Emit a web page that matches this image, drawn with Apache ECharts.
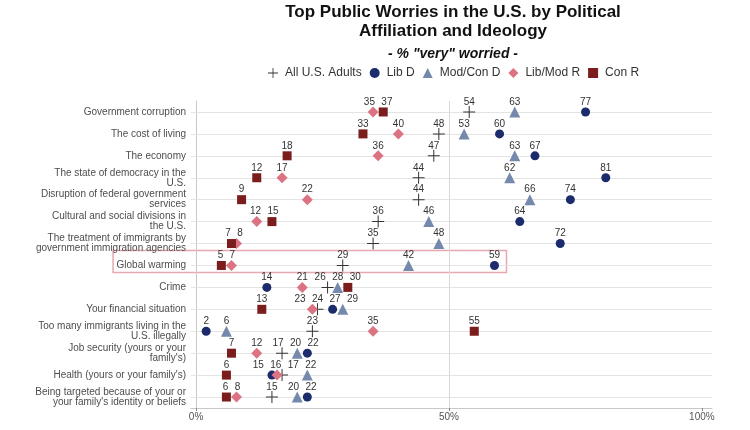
<!DOCTYPE html>
<html><head><meta charset="utf-8">
<script src="https://cdn.jsdelivr.net/npm/echarts@6/dist/echarts.min.js"></script>
<style>html,body{margin:0;padding:0;background:#fff}#c{width:750px;height:430px}</style>
</head><body><div id="c"></div>
<script>
// ---- data ----
const categories = [
  "Government corruption",
  "The cost of living",
  "The economy",
  "The state of democracy in the\nU.S.",
  "Disruption of federal government\nservices",
  "Cultural and social divisions in\nthe U.S.",
  "The treatment of immigrants by\ngovernment immigration agencies",
  "Global warming",
  "Crime",
  "Your financial situation",
  "Too many immigrants living in the\nU.S. illegally",
  "Job security (yours or your\nfamily's)",
  "Health (yours or your family's)",
  "Being targeted because of your or\nyour family's identity or beliefs"
];
const allAdults = [54, 48, 47, 44, 44, 36, 35, 29, 26, 24, 23, 17, 17, 15];
const libD      = [77, 60, 67, 81, 74, 64, 72, 59, 14, 27,  2, 22, 15, 22];
const modConD   = [63, 53, 63, 62, 66, 46, 48, 42, 28, 29,  6, 20, 22, 20];
const libModR   = [35, 40, 36, 17, 22, 12,  8,  7, 21, 23, 35, 12, 16,  8];
const conR      = [37, 33, 18, 12,  9, 15,  7,  5, 30, 13, 55,  7,  6,  6];
const seriesNames = ["All U.S. Adults", "Lib D", "Mod/Con D", "Lib/Mod R", "Con R"];
const xTickValues = [0, 50, 100];
const highlightIndex = 7; // Global warming
const titleText = "Top Public Worries in the U.S. by Political\nAffiliation and Ideology";
const subtitleText = '- % "very" worried -';

// ---- styles ----
const FONT = "Liberation Sans, Arial, sans-serif";
const seriesVals = [allAdults, libD, modConD, libModR, conR];
const colors = ["#333333", "#1b2b6b", "#7489ab", "#dc7383", "#7b1d1d"];
const crossPath = "path://M5.5,0h1v5.5h5.5v1h-5.5v5.5h-1v-5.5h-5.5v-1h5.5z";
const symbols = [crossPath, "circle", "triangle", "diamond", "rect"];
const sizes = [12, 9, 11, 11, 9];
const LABEL_DY = -10;

function buildSeries(offsets) {
  const s = seriesVals.map((arr, si) => ({
    name: seriesNames[si],
    type: "scatter",
    z: 3 + si,
    symbol: symbols[si],
    symbolSize: sizes[si],
    symbolKeepAspect: true,
    itemStyle: { color: colors[si], opacity: 1 },
    label: {
      show: true, position: "inside", offset: [0, LABEL_DY],
      fontFamily: FONT, fontSize: 10, color: "#333",
      formatter: p => p.value[0]
    },
    emphasis: { disabled: true },
    data: arr.map((v, i) => {
      const d = { value: [v, i] };
      if (offsets) d.label = { offset: [offsets[si][i], LABEL_DY] };
      return d;
    })
  }));
  s.push({
    name: "grid-lines", type: "scatter", z: 1, data: [], silent: true,
    markLine: {
      z: 1, silent: true, symbol: "none", animation: false,
      label: { show: false },
      emphasis: { disabled: true },
      lineStyle: { color: "#e4e4e4", width: 1, type: "solid" },
      data: categories.map((c, i) => ({ yAxis: i })).concat([{ xAxis: 50, lineStyle: { color: "#d9d9d9" } }])
    }
  });
  return s;
}

const option = {
  animation: false,
  backgroundColor: "#fff",
  textStyle: { fontFamily: FONT },
  title: {
    text: titleText, subtext: subtitleText,
    left: 453, textAlign: "center", top: 3, padding: 0, itemGap: 5,
    textStyle: { fontFamily: FONT, fontSize: 17, fontWeight: "bold", color: "#111", lineHeight: 19 },
    subtextStyle: { fontFamily: FONT, fontSize: 14, fontWeight: "bold", fontStyle: "italic", color: "#111", lineHeight: 16 }
  },
  legend: {
    data: seriesNames, top: 67, left: 268, padding: 0,
    itemWidth: 10, itemHeight: 10, itemGap: 8,
    textStyle: { fontFamily: FONT, fontSize: 12, color: "#333", padding: [0, 0, 0, 2] },
    selectedMode: false
  },
  grid: { left: 191, right: 38, top: 101, bottom: 22, containLabel: false },
  xAxis: {
    type: "value", min: -1, max: 102,
    axisLine: { show: true, lineStyle: { color: "#c8c8c8", width: 1 } },
    axisTick: { show: true, length: 3, customValues: xTickValues, lineStyle: { color: "#888" } },
    axisLabel: { customValues: xTickValues, formatter: v => v + "%", fontFamily: FONT, fontSize: 10, color: "#555", margin: 4 },
    splitLine: { show: false }
  },
  yAxis: {
    type: "category", data: categories, inverse: true,
    axisLine: { show: true, lineStyle: { color: "#c8c8c8", width: 1 } },
    axisTick: { show: false },
    axisLabel: { fontFamily: FONT, fontSize: 10, color: "#4d4d4d", margin: 5, lineHeight: 10, interval: 0 },
    splitLine: { show: false }
  },
  series: buildSeries(null)
};

const chart = echarts.init(document.getElementById("c"), null, { renderer: "canvas" });
chart.setOption(option);

// ---- label repel along x within each row ----
const PAD = 6.4, DIGIT = 5.56;
const offsets = seriesVals.map(() => new Array(categories.length).fill(0));
function place(items) {
  const rel = [0];
  for (let k = 1; k < items.length; k++) rel.push(rel[k - 1] + items[k - 1].w / 2 + PAD + items[k].w / 2);
  const mPx = items.reduce((a, b) => a + b.px, 0) / items.length;
  const mRel = rel.reduce((a, b) => a + b, 0) / rel.length;
  items.forEach((it, k) => { it.pos = mPx - mRel + rel[k]; });
}
categories.forEach((c, i) => {
  const items = seriesVals.map((arr, si) => {
    const px = chart.convertToPixel({ gridIndex: 0 }, [arr[i], i])[0];
    return { si, px, w: String(arr[i]).length * DIGIT, pos: px };
  }).sort((a, b) => a.px - b.px);
  const clusters = [];
  items.forEach(it => {
    clusters.push([it]);
    while (clusters.length > 1) {
      const b = clusters[clusters.length - 1], a = clusters[clusters.length - 2];
      place(a); place(b);
      const al = a[a.length - 1], bf = b[0];
      if (al.pos + al.w / 2 + PAD > bf.pos - bf.w / 2) { clusters.pop(); clusters[clusters.length - 1] = a.concat(b); }
      else break;
    }
  });
  clusters.forEach(place);
  items.forEach(it => { offsets[it.si][i] = it.pos - it.px; });
});

// ---- highlight box around one category row ----
const rowVals = seriesVals.map(a => a[highlightIndex]);
const yc = chart.convertToPixel({ gridIndex: 0 }, [0, highlightIndex])[1];
const x0 = chart.convertToPixel({ gridIndex: 0 }, [0, highlightIndex])[0];
const xMax = chart.convertToPixel({ gridIndex: 0 }, [Math.max(...rowVals), highlightIndex])[0];
const boxLeft = x0 - 83, boxRight = xMax + 12;

chart.setOption({
  series: buildSeries(offsets),
  graphic: [{
    type: "rect", z: 0, silent: true,
    shape: { x: boxLeft, y: yc - 15, width: boxRight - boxLeft, height: 22 },
    style: { fill: "none", stroke: "#e8a8b0", lineWidth: 1.5 }
  }]
});
</script>
</body></html>
